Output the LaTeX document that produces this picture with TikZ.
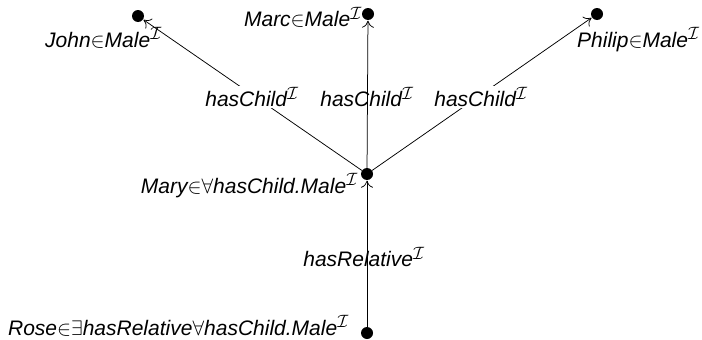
\RequirePackage{fix-cm}
\documentclass[tikz,border=0pt]{standalone}
\usepackage{fontspec}
\setmainfont{Liberation Sans}
\usetikzlibrary{arrows.meta}
\renewcommand{\defaultscriptratio}{.85}
\newcommand{\Ii}{^{\mathcal{I}}}
\newcommand{\elem}{{\in}}
\begin{document}
\begin{tikzpicture}[x=1pt,y=-1pt,
  every node/.style={font=\fontsize{21}{25}\selectfont\itshape},
  pt/.style={circle,fill=black,inner sep=0pt,minimum size=12pt},
  rel/.style={draw=black,line width=0.75pt,-{To[length=7pt,width=12pt]},shorten >=0.5pt},
  lbl/.style={inner sep=0pt},
  gap/.style={inner sep=1pt,fill=white}]
\useasboundingbox (0,0) rectangle (702,340);
% individuals
\node[pt] (john) at (138,16) {};
\node[pt] (marc) at (368,14) {};
\node[pt] (philip) at (597,14) {};
\node[pt] (mary) at (367,174) {};
\node[pt] (rose) at (367,333) {};
% membership labels
\node[lbl,anchor=base east] (tjohn) at (162,47) {John$\elem$Male$\Ii$};
\node[lbl,anchor=base east] (tmarc) at (362,27) {Marc$\elem$Male$\Ii$};
\node[lbl,anchor=base west] (tphilip) at (577,47) {Philip$\elem$Male$\Ii$};
\node[lbl,anchor=base east] (tmary) at (358,193) {Mary$\elem\forall$hasChild.Male$\Ii$};
\node[lbl,anchor=base east] (trose) at (349,335) {Rose$\elem\exists$hasRelative$\forall$hasChild.Male$\Ii$};
% slanted role edges, interrupted by their labels
\draw[rel] (mary) -- (john);
\draw[rel] (mary) -- (philip);
\node[gap] (c1) at (252,97) {hasChild$\Ii$};
\node[gap] (c3) at (481,97) {hasChild$\Ii$};
% vertical role edges, drawn across their labels
\node[lbl] (c2) at (367,97) {hasChild$\Ii$};
\node[lbl] (r1) at (364,257) {hasRelative$\Ii$};
\draw[rel] (mary) -- (marc);
\draw[rel] (rose) -- (mary);
\end{tikzpicture}
\end{document}
